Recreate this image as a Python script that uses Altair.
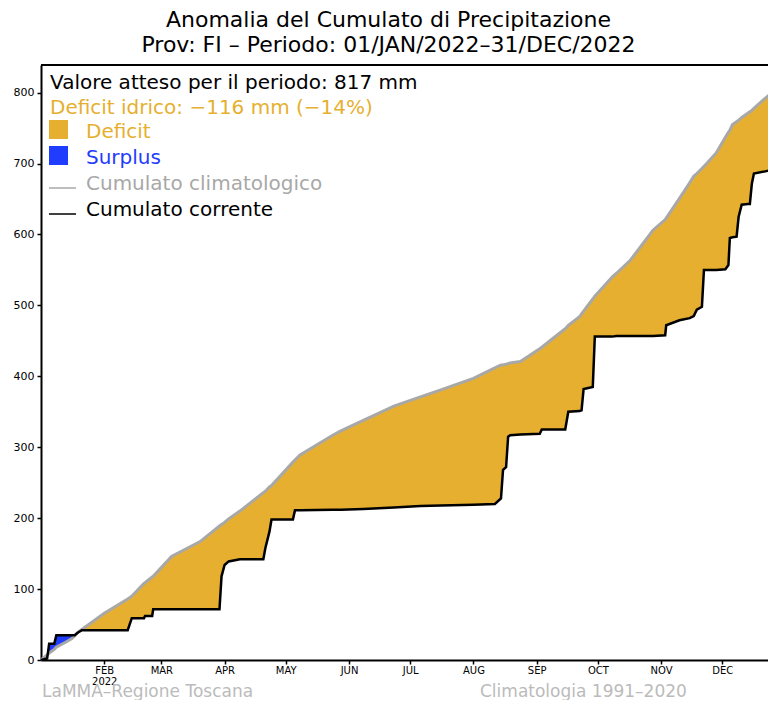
import altair as alt
import pandas as pd

# ---- data ----
days = [0, 3, 4, 6.5, 7.5, 12, 15, 16.5, 18, 20, 31, 42.5, 44.5, 50.5, 51, 54.5, 55,
        64, 78, 87.5, 88.5, 90, 92, 97.5, 109, 110, 112, 113, 123.5, 124.5, 127, 143,
        147, 158, 173, 186, 196, 212, 222.5, 225.5, 226.5, 228, 229, 230, 235, 244.5,
        245.5, 256, 257, 258.5, 264, 265, 266, 270.5, 271.5, 280, 282, 289, 300, 306,
        306.5, 313, 318, 320, 321.5, 324, 325, 331, 335.5, 337, 337.7, 339, 341, 342,
        343.5, 346.5, 347.5, 348.5, 349.5, 355, 360]
clim = [0, 7, 10, 15, 18, 25, 30, 34, 39, 43, 66, 86, 90, 108, 109, 117, 118,
        146, 167, 189, 191, 194, 199, 210, 236, 238, 244, 246, 279, 282, 289, 317,
        323, 338, 358, 371, 381, 397, 412, 416, 416, 417, 418, 419, 421, 439,
        441, 465, 467, 472, 484, 488, 492, 509, 513, 540, 545, 564, 606, 621,
        623, 651, 673, 682, 686, 693, 696, 715, 737, 744, 747, 755, 759, 761,
        765, 771, 773, 775, 778, 792, 804]
cur = [0, 2, 23, 23, 35, 35, 35, 35, 38.5, 42, 42, 42, 59, 59, 62, 62, 71.5,
       71.5, 71.5, 71.5, 118, 134, 139, 142, 142, 158, 181, 198, 198, 211, 211, 212,
       212, 213, 215, 217, 218, 219, 220, 228, 268, 272, 315, 317, 318, 319,
       325, 325, 325, 350, 351, 352, 382, 385, 456, 456, 457, 457, 457, 458,
       472, 479, 482, 485, 494, 498, 550, 550, 551, 557, 595, 596, 597, 625,
       642, 643, 643, 672, 686, 689, 692]

month_days = [31, 59, 90, 120, 151, 181, 212, 243, 273, 304, 334]
month_names = ["FEB", "MAR", "APR", "MAY", "JUN", "JUL", "AUG", "SEP", "OCT", "NOV", "DEC"]
y_ticks = [0, 100, 200, 300, 400, 500, 600, 700, 800]

title_lines = ["Anomalia del Cumulato di Precipitazione",
               "Prov: FI \u2013 Periodo: 01/JAN/2022\u201331/DEC/2022"]

df = pd.DataFrame({"day": days, "clim": clim, "cur": cur})

W, H = 727, 595
XMAX = 356.4
YMAX = 839
YELLOW = "#E6AF2F"
BLUE = "#1F3CFF"
GREY = "#A8A8A8"
FONT = "DejaVu Sans"

xscale = alt.Scale(domain=[0, XMAX], nice=False, zero=False)
yscale = alt.Scale(domain=[0, YMAX], nice=False)

label_expr = ("datum.value == 31 ? ['FEB','2022'] : " +
              str(month_names).replace('"', "'") + "[indexof(" + str(month_days) + ", datum.value)]")

xaxis = alt.Axis(values=month_days, labelExpr=label_expr, title=None, grid=False,
                 domainColor="black", domainWidth=2, tickColor="black", tickSize=4,
                 tickWidth=1.5, labelFont=FONT, labelFontSize=10, labelColor="black",
                 labelPadding=1, labelLineHeight=11, labelFlush=False)
yaxis = alt.Axis(values=y_ticks, title=None, grid=False, domainColor="black",
                 domainWidth=2, tickColor="black", tickSize=4, tickWidth=1.5,
                 labelFont=FONT, labelFontSize=11, labelColor="black", labelPadding=3)

base = alt.Chart(df)

deficit = base.mark_area(color=YELLOW, clip=True).encode(
    x=alt.X("day:Q", scale=xscale, axis=xaxis),
    y=alt.Y("clim:Q", scale=yscale, axis=yaxis),
    y2="cur:Q",
)
surplus = base.transform_filter("datum.day <= 18").mark_area(color=BLUE, clip=True).encode(
    x=alt.X("day:Q", scale=xscale),
    y=alt.Y("cur:Q", scale=yscale),
    y2="clim:Q",
)
clim_line = base.mark_line(color=GREY, strokeWidth=3, clip=True).encode(
    x=alt.X("day:Q", scale=xscale),
    y=alt.Y("clim:Q", scale=yscale),
)
cur_line = base.mark_line(color="black", strokeWidth=2.5, clip=True).encode(
    x=alt.X("day:Q", scale=xscale),
    y=alt.Y("cur:Q", scale=yscale),
)

one = alt.Chart(pd.DataFrame({"k": [0]}))
top_rule = one.mark_rule(color="black", strokeWidth=2).encode(
    x=alt.value(0), x2=alt.value(W), y=alt.value(0))


def txt(s, x, y, color, size=20, baseline="middle"):
    return one.mark_text(text=s, align="left", baseline=baseline, font=FONT,
                         fontSize=size, color=color).encode(x=alt.value(x), y=alt.value(y))


def box(x, y, color):
    return one.mark_rect(color=color).encode(
        x=alt.value(x), x2=alt.value(x + 19), y=alt.value(y), y2=alt.value(y + 19))


def seg(x, y, color):
    return one.mark_rule(color=color, strokeWidth=1.5).encode(
        x=alt.value(x), x2=alt.value(x + 27), y=alt.value(y))


legend = [
    txt("Valore atteso per il periodo: 817 mm", 9, 18, "black"),
    txt("Deficit idrico: \u2212116 mm (\u221214%)", 9, 43, YELLOW),
    box(8, 55, YELLOW), txt("Deficit", 45, 67, YELLOW),
    box(8, 81, BLUE), txt("Surplus", 45, 93, BLUE),
    seg(8, 123, GREY), txt("Cumulato climatologico", 45, 119, GREY),
    seg(8, 149, "black"), txt("Cumulato corrente", 45, 145, "black"),
    txt("LaMMA\u2013Regione Toscana", 1, 632, "#BBBBBB", 17, "alphabetic"),
    txt("Climatologia 1991\u20132020", 439, 632, "#BBBBBB", 17, "alphabetic"),
]

chart = alt.layer(deficit, surplus, clim_line, cur_line, top_rule, *legend).properties(
    width=W, height=H,
    title=alt.TitleParams(text=title_lines, font=FONT, fontSize=22, fontWeight="normal",
                          color="black", anchor="middle", dx=-16, offset=7,
                          lineHeight=25),
    autosize=alt.AutoSizeParams(type="none"),
    padding={"left": 33, "top": 57, "right": 0, "bottom": 40},
).configure_view(stroke=None).configure(background="white")

chart.save("out.html", embed_options={"renderer": "svg", "actions": False})
